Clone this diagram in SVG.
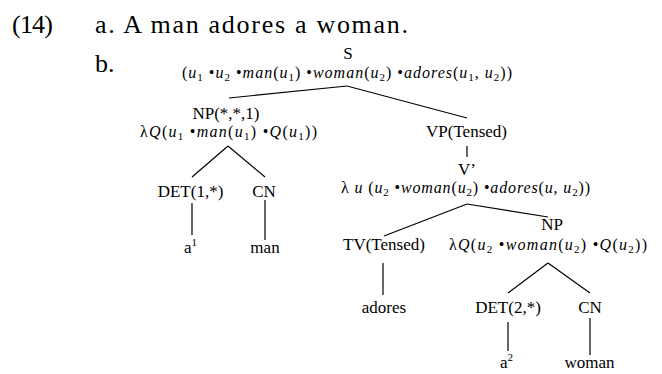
<svg xmlns="http://www.w3.org/2000/svg" width="662" height="374" viewBox="0 0 662 374">
<style>
text{font-family:"Liberation Serif","DejaVu Serif",serif;fill:#000;font-size:17px}
.big{font-size:26px}
.f{font-size:16px}
.i{font-style:italic}
.s{font-size:11px}
.c{text-anchor:middle}
line{stroke:#000;stroke-width:1.2}
</style>
<rect width="662" height="374" fill="#fff"/>
<g id="header">
<text class="big" x="12" y="33" textLength="41">(14)</text>
<text class="big" x="95" y="33" textLength="313">a. A man adores a woman.</text>
<text class="big" x="95" y="72">b.</text>
</g>
<g id="connectors">
<line x1="347" y1="86" x2="229" y2="98"/>
<line x1="347" y1="86" x2="467" y2="118"/>
<line x1="228" y1="146" x2="192" y2="177"/>
<line x1="228" y1="146" x2="265" y2="177"/>
<line x1="192" y1="203" x2="192" y2="235"/>
<line x1="265" y1="200" x2="265" y2="240"/>
<line x1="467" y1="146" x2="467" y2="157"/>
<line x1="467" y1="204" x2="384" y2="236"/>
<line x1="467" y1="204" x2="548" y2="217"/>
<line x1="383" y1="263" x2="383" y2="295"/>
<line x1="548" y1="263" x2="508" y2="293"/>
<line x1="548" y1="263" x2="590" y2="293"/>
<line x1="508" y1="322" x2="508" y2="351"/>
<line x1="590" y1="318" x2="590" y2="355"/>
</g>
<g id="node-S">
<text class="c" x="348" y="59">S</text>
<text class="f" x="182" y="78" textLength="330">(<tspan class="i">u</tspan><tspan class="s" dy="3">1</tspan><tspan dy="-3"> •</tspan><tspan class="i">u</tspan><tspan class="s" dy="3">2</tspan><tspan dy="-3"> •</tspan><tspan class="i">man</tspan>(<tspan class="i">u</tspan><tspan class="s" dy="3">1</tspan><tspan dy="-3">) •</tspan><tspan class="i">woman</tspan>(<tspan class="i">u</tspan><tspan class="s" dy="3">2</tspan><tspan dy="-3">) •</tspan><tspan class="i">adores</tspan>(<tspan class="i">u</tspan><tspan class="s" dy="3">1</tspan><tspan dy="-3">, </tspan><tspan class="i">u</tspan><tspan class="s" dy="3">2</tspan><tspan dy="-3">))</tspan></text>
</g>
<g id="node-NP1">
<text class="c" x="226" y="119">NP(*,*,1)</text>
<text class="f" x="140" y="137" textLength="177">λ<tspan class="i">Q</tspan>(<tspan class="i">u</tspan><tspan class="s" dy="3">1</tspan><tspan dy="-3"> •</tspan><tspan class="i">man</tspan>(<tspan class="i">u</tspan><tspan class="s" dy="3">1</tspan><tspan dy="-3">) •</tspan><tspan class="i">Q</tspan>(<tspan class="i">u</tspan><tspan class="s" dy="3">1</tspan><tspan dy="-3">))</tspan></text>
</g>
<g id="node-DET1">
<text class="c" x="190.5" y="197">DET(1,*)</text>
</g>
<g id="node-CN1">
<text class="c" x="264" y="197">CN</text>
</g>
<g id="node-a1">
<text x="184" y="253">a<tspan class="s" dy="-7">1</tspan></text>
</g>
<g id="node-man">
<text class="c" x="265" y="253">man</text>
</g>
<g id="node-VP">
<text class="c" x="466.5" y="137">VP(Tensed)</text>
</g>
<g id="node-V">
<text class="c" x="467" y="175">V’</text>
<text class="f" x="341" y="193" textLength="249">λ <tspan class="i">u</tspan> (<tspan class="i">u</tspan><tspan class="s" dy="3">2</tspan><tspan dy="-3"> •</tspan><tspan class="i">woman</tspan>(<tspan class="i">u</tspan><tspan class="s" dy="3">2</tspan><tspan dy="-3">) •</tspan><tspan class="i">adores</tspan>(<tspan class="i">u</tspan>, <tspan class="i">u</tspan><tspan class="s" dy="3">2</tspan><tspan dy="-3">))</tspan></text>
</g>
<g id="node-TV">
<text class="c" x="384" y="250">TV(Tensed)</text>
</g>
<g id="node-adores">
<text class="c" x="384" y="313">adores</text>
</g>
<g id="node-NP2">
<text class="c" x="552" y="230">NP</text>
<text class="f" x="449" y="250" textLength="198">λ<tspan class="i">Q</tspan>(<tspan class="i">u</tspan><tspan class="s" dy="3">2</tspan><tspan dy="-3"> •</tspan><tspan class="i">woman</tspan>(<tspan class="i">u</tspan><tspan class="s" dy="3">2</tspan><tspan dy="-3">) •</tspan><tspan class="i">Q</tspan>(<tspan class="i">u</tspan><tspan class="s" dy="3">2</tspan><tspan dy="-3">))</tspan></text>
</g>
<g id="node-DET2">
<text class="c" x="508" y="313">DET(2,*)</text>
</g>
<g id="node-CN2">
<text class="c" x="590" y="313">CN</text>
</g>
<g id="node-a2">
<text x="500" y="368">a<tspan class="s" dy="-7">2</tspan></text>
</g>
<g id="node-woman">
<text class="c" x="589.5" y="368">woman</text>
</g>
</svg>
